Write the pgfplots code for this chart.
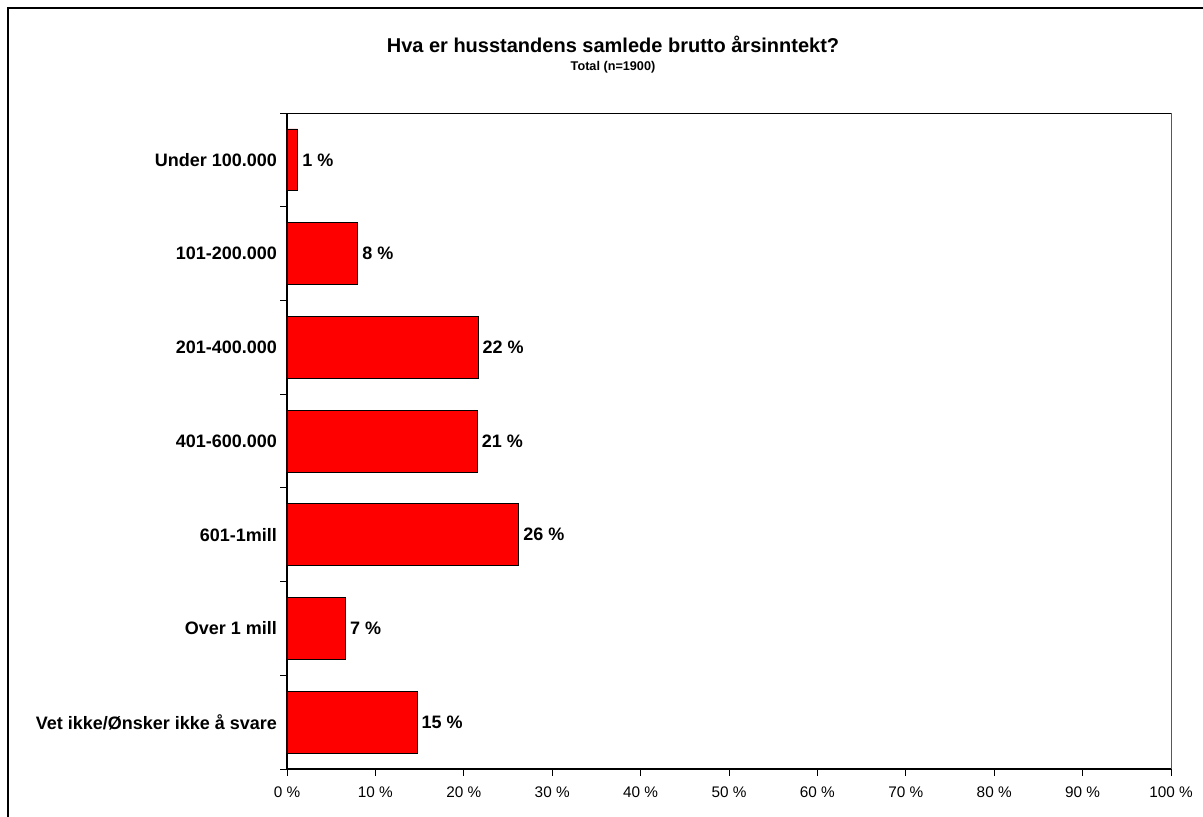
\documentclass[border=0pt]{standalone}
\usepackage{pgfplots}
\pgfplotsset{compat=1.18}
\usepackage{pgfplotstable}
\usepackage{fontspec}
\setmainfont{Liberation Sans}
\definecolor{barred}{RGB}{255,0,0}
\pgfplotstableread{
y x label
0 1.2 {1 \%}
1 8.0 {8 \%}
2 21.6 {22 \%}
3 21.5 {21 \%}
4 26.2 {26 \%}
5 6.6 {7 \%}
6 14.7 {15 \%}
}\datatable
\begin{document}
\begin{tikzpicture}
\useasboundingbox (0,0) rectangle (902.25pt,612.75pt);
\draw[line width=1.5pt] (6pt,0) -- (6pt,606.75pt) -- (902.25pt,606.75pt);
\node[font=\fontsize{15}{18}\selectfont\bfseries] at (459.75pt,579.75pt) {Hva er husstandens samlede brutto årsinntekt?};
\node[font=\fontsize{9.5}{11}\selectfont\bfseries] at (459.75pt,562pt) {Total (n=1900)};
\begin{axis}[
  at={(215.25pt,36pt)}, anchor=south west,
  scale only axis, width=663pt, height=492pt,
  xbar, bar width=0.66,
  xmin=0, xmax=100,
  ymin=-0.5, ymax=6.5, y dir=reverse,
  xtick={0,10,...,100},
  xticklabels={0 \%,10 \%,20 \%,30 \%,40 \%,50 \%,60 \%,70 \%,80 \%,90 \%,100 \%},
  xticklabel style={font=\fontsize{11.5}{13}\selectfont, yshift=-10pt},
  ytick={0,...,6},
  yticklabels={Under 100.000,101-200.000,201-400.000,401-600.000,601-1mill,Over 1 mill,Vet ikke/Ønsker ikke å svare},
  yticklabel style={font=\fontsize{13.5}{16}\selectfont\bfseries, xshift=-4pt},
  major tick length=0pt,
  extra y ticks={-0.5,0.5,...,6.5},
  extra y tick labels={},
  extra y tick style={major tick length=5pt, tick align=outside, tick style={black, line width=0.6pt}},
  extra x ticks={0,10,...,100},
  extra x tick labels={},
  extra x tick style={major tick length=5pt, tick align=outside, tick style={black, line width=0.6pt}},
  axis line style={black, line width=0.8pt},
  axis x line*=bottom, axis y line*=left,
  nodes near coords, point meta=explicit symbolic,
  every node near coord/.append style={font=\fontsize{13.5}{16}\selectfont\bfseries, anchor=west, xshift=0pt},
  clip=false,
]
\addplot[fill=barred, draw=black, line width=0.5pt] table[x=x, y=y, meta=label] {\datatable};
\draw[black, line width=0.5pt] (axis cs:0,-0.5) -- (axis cs:100,-0.5);
\draw[gray!70!black, line width=0.5pt] (axis cs:100,-0.5) -- (axis cs:100,6.5);
\end{axis}
\end{tikzpicture}
\end{document}
